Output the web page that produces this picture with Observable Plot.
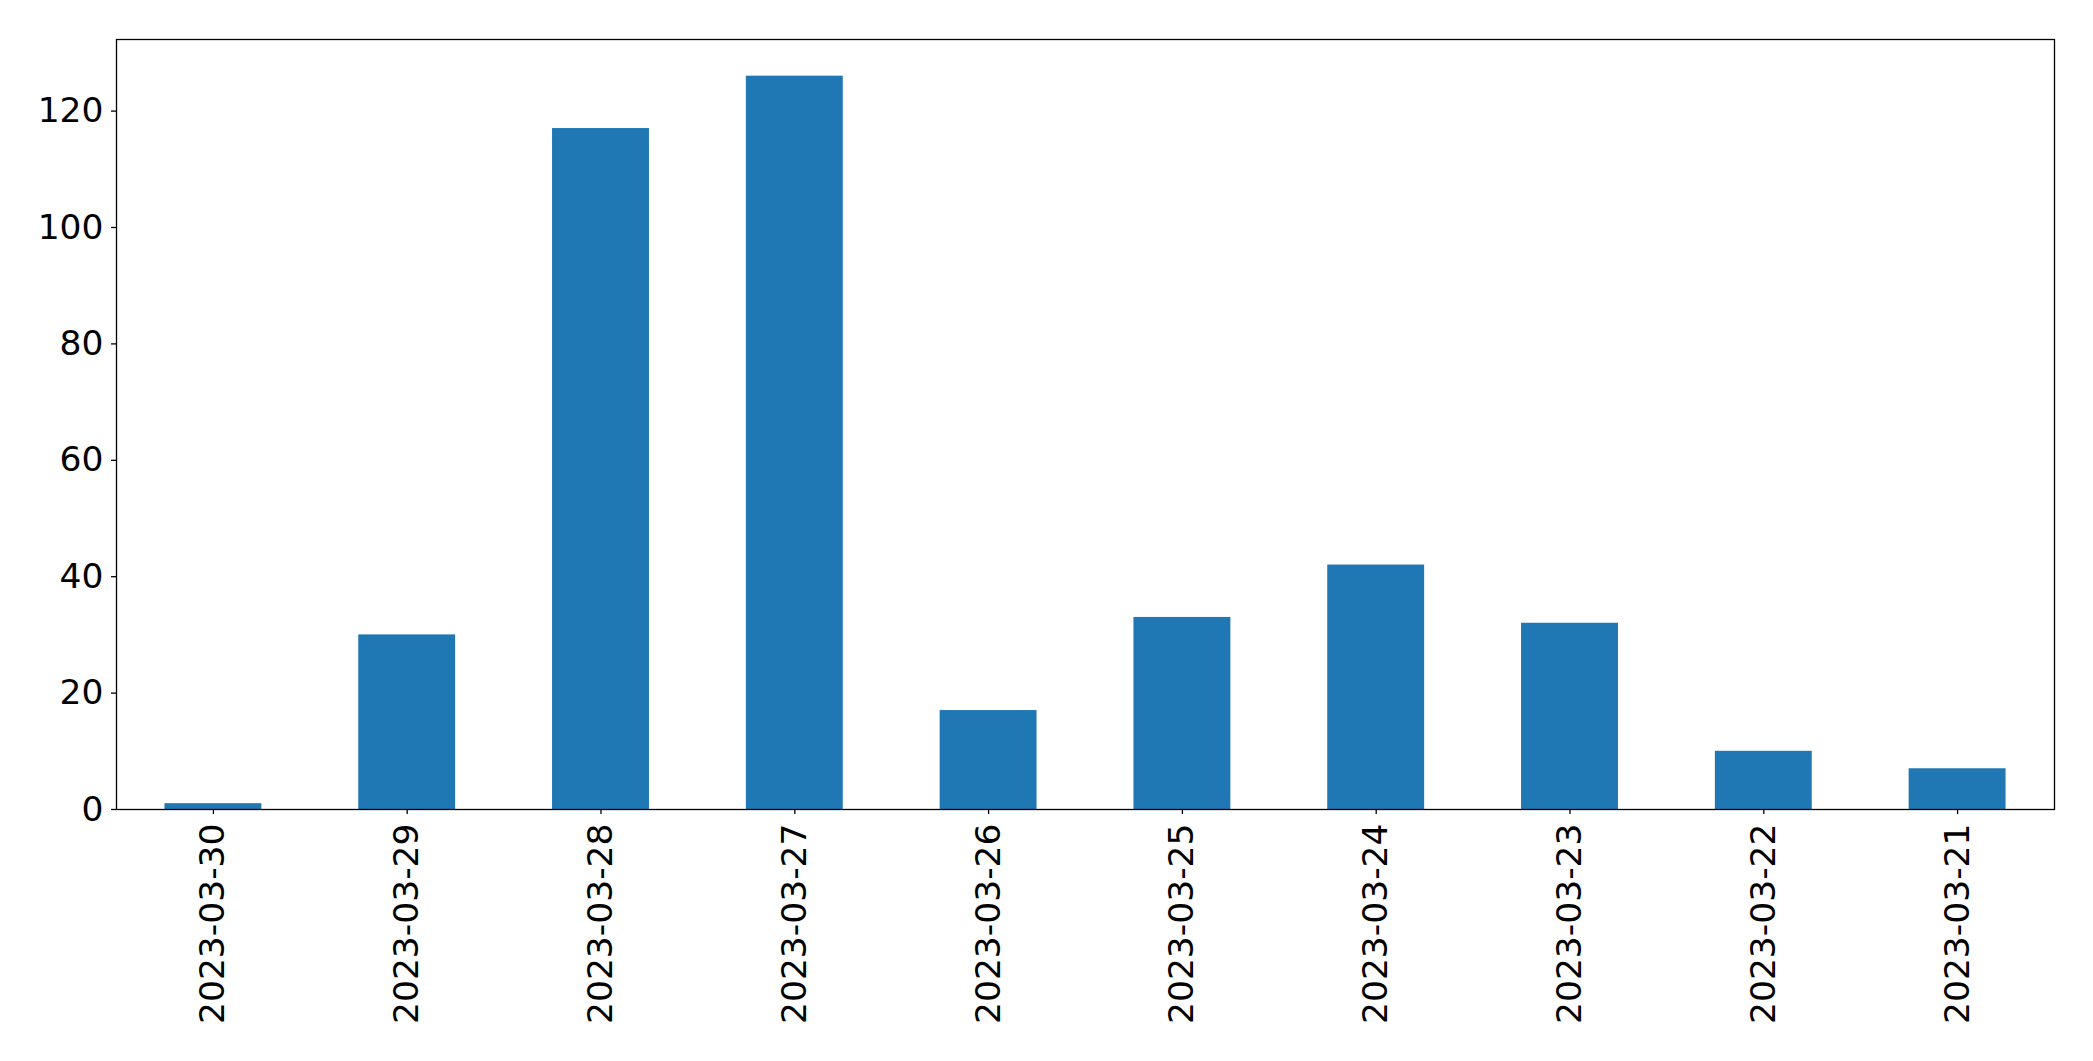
<!DOCTYPE html>
<html>
<head>
<meta charset="utf-8">
<script src="https://cdn.jsdelivr.net/npm/d3@7"></script>
<script src="https://cdn.jsdelivr.net/npm/@observablehq/plot@0.6"></script>
<style>
  html, body { margin: 0; padding: 0; background: #fff; }
  #chart svg { display: block; }
</style>
</head>
<body>
<div id="chart"></div>
<script>
const dates = ["2023-03-30","2023-03-29","2023-03-28","2023-03-27","2023-03-26","2023-03-25","2023-03-24","2023-03-23","2023-03-22","2023-03-21"];
const counts = [1, 30, 117, 126, 17, 33, 42, 32, 10, 7];
const yTicks = [0, 20, 40, 60, 80, 100, 120];

const data = dates.map((d, i) => ({date: d, count: counts[i]}));

const fontSize = 34.5;
const chart = Plot.plot({
  width: 2093,
  height: 1061,
  marginLeft: 116,
  marginRight: 39,
  marginTop: 39,
  marginBottom: 252,
  style: {fontFamily: "DejaVu Sans", fontSize: fontSize + "px", color: "#000", background: "#fff", overflow: "visible"},
  x: {type: "band", domain: dates, paddingInner: 0.5, paddingOuter: 0.25, round: false, label: null},
  y: {domain: [0, 126 * 1.05], label: null},
  marks: [
    Plot.barY(data, {x: "date", y: "count", fill: "#1f77b4"}),
    Plot.axisY({ticks: yTicks, tickSize: 5, tickPadding: 8, fontSize: fontSize, label: null, stroke: "#000", strokeWidth: 1.3}),
    Plot.axisX({tickSize: 5, tickPadding: 9, tickRotate: -90, fontSize: fontSize, label: null, stroke: "#000", strokeWidth: 1.3}),
    Plot.frame({stroke: "#000", strokeWidth: 1.3})
  ]
});
document.getElementById("chart").appendChild(chart);
</script>
</body>
</html>
